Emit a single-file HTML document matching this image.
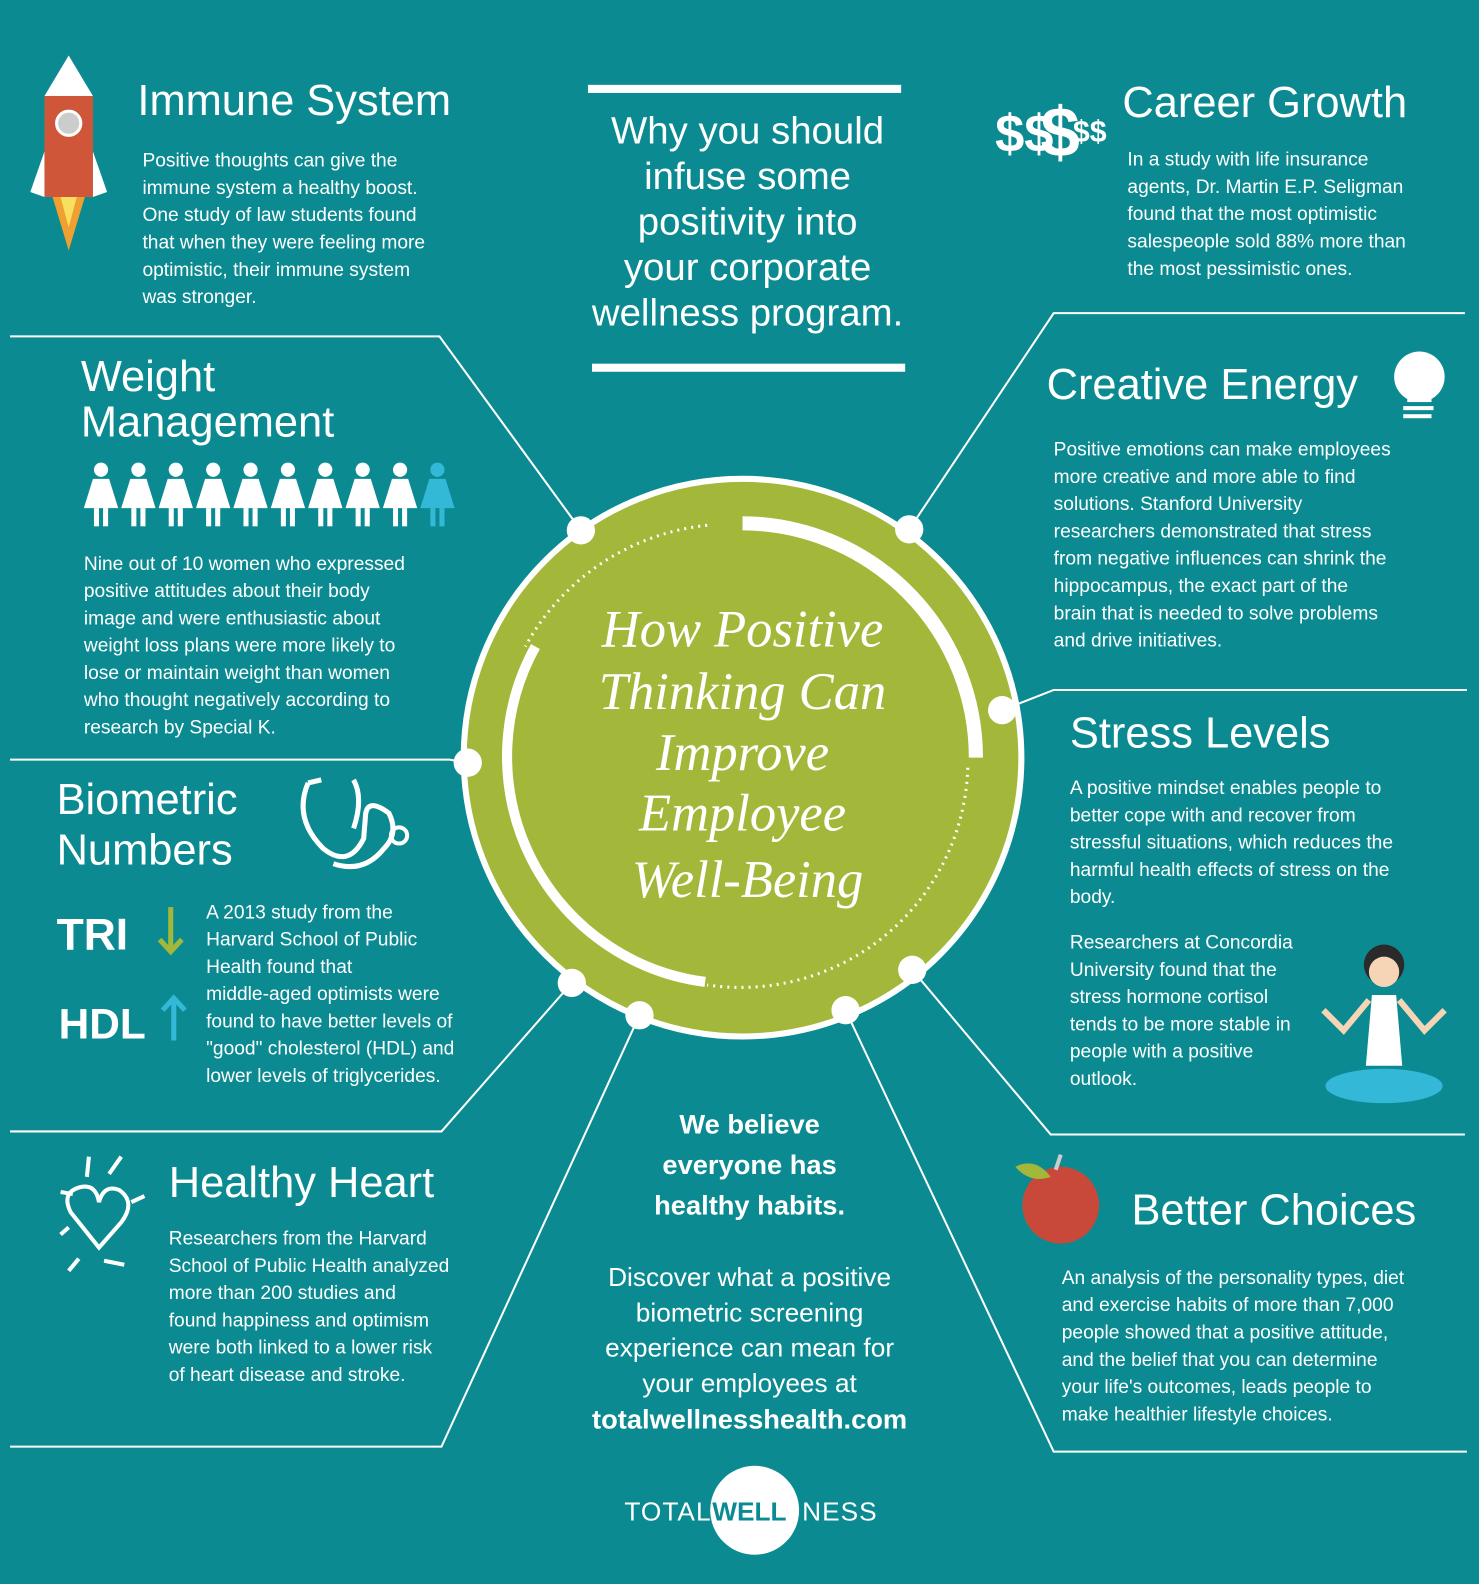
<!DOCTYPE html>
<html><head><meta charset="utf-8"><style>
html,body{margin:0;padding:0;background:#0b8b91;}
svg{display:block}
text{font-family:"Liberation Sans",sans-serif;fill:#fff}
.t{font-size:43px;font-weight:300}
.b{font-size:19px}
.h{font-family:"Liberation Serif",serif;font-style:italic;font-size:52px}
</style></head><body>
<svg width="1479" height="1584" viewBox="0 0 1464 1568" preserveAspectRatio="none" xmlns="http://www.w3.org/2000/svg">
<defs><g id="w">
<circle cx="100" cy="465" r="7"/><path d="M92,474 L108,474 L117,503 L83,503Z"/><rect x="93" y="503" width="5" height="18"/><rect x="102" y="503" width="5" height="18"/>
</g></defs>
<rect width="1464" height="1568" fill="#0b8b91"/>
<g stroke="#fff" stroke-width="2" fill="none">
<polyline points="10,333 435,333 575,525"/>
<polyline points="10,752 445,752 463,755"/>
<polyline points="566,973 437,1120 10,1120"/>
<polyline points="633,1005 437,1432 10,1432"/>
<polyline points="837,1000 1043,1437 1452,1437"/>
<polyline points="903,960 1040,1123 1450,1123"/>
<polyline points="992,703 1043,683 1452,683"/>
<polyline points="900,524 1043,310 1450,310"/>
</g>
<circle cx="735" cy="750" r="276" fill="#a3b83a" stroke="#fff" stroke-width="6"/>
<g fill="none" stroke="#fff">
<path d="M735,518 A232,232 0 0 1 966,750" stroke-width="14"/>
<path d="M698,972 A225,225 0 0 1 530,640" stroke-width="10"/>
<path d="M700,520 A232,232 0 0 0 520,640" stroke-width="3" stroke-dasharray="2,5"/>
<path d="M958,760 A225,225 0 0 1 700,975" stroke-width="3" stroke-dasharray="2,5"/>
</g>
<g fill="#fff">
<circle cx="575" cy="525" r="14"/><circle cx="900" cy="524" r="14"/><circle cx="992" cy="703" r="14"/>
<circle cx="463" cy="755" r="14"/><circle cx="566" cy="973" r="14"/><circle cx="633" cy="1005" r="14"/>
<circle cx="837" cy="1000" r="14"/><circle cx="903" cy="960" r="14"/>
</g>
<g text-anchor="middle">
<text x="735" y="640" class="h">How Positive</text>
<text x="735" y="702" class="h">Thinking Can</text>
<text x="735" y="762" class="h">Improve</text>
<text x="735" y="822" class="h">Employee</text>
<text x="740" y="888" class="h">Well-Being</text>
</g>
<rect x="582" y="84" width="310" height="8" fill="#fff"/>
<rect x="586" y="360" width="310" height="8" fill="#fff"/>
<g text-anchor="middle" style="font-size:38px">
<text x="740" y="142">Why you should</text><text x="740" y="187">infuse some</text>
<text x="740" y="232">positivity into</text><text x="740" y="277">your corporate</text>
<text x="740" y="322">wellness program.</text>
</g>
<path d="M68,55 L92,95 L44,95 Z" fill="#fff"/>
<rect x="44" y="95" width="48" height="100" fill="#d0563a"/>
<circle cx="68" cy="122" r="12" fill="#ccc" stroke="#fff" stroke-width="3"/>
<path d="M44,150 L30,190 L44,195Z M92,150 L106,190 L92,195Z" fill="#fff"/>
<path d="M52,195 L68,248 L84,195Z" fill="#f0a030"/><path d="M60,195 L68,225 L76,195Z" fill="#f7e060"/>
<text x="136" y="114" class="t">Immune System</text>
<g><text x="141" y="165" class="b">Positive thoughts can give the</text><text x="141" y="192" class="b">immune system a healthy boost.</text><text x="141" y="219" class="b">One study of law students found</text><text x="141" y="246" class="b">that when they were feeling more</text><text x="141" y="273" class="b">optimistic, their immune system</text><text x="141" y="300" class="b">was stronger.</text></g>
<text x="80" y="387" class="t">Weight</text><text x="80" y="432" class="t">Management</text>
<use href="#w" x="0" fill="#fff"/><use href="#w" x="37" fill="#fff"/><use href="#w" x="74" fill="#fff"/><use href="#w" x="111" fill="#fff"/><use href="#w" x="148" fill="#fff"/><use href="#w" x="185" fill="#fff"/><use href="#w" x="222" fill="#fff"/><use href="#w" x="259" fill="#fff"/><use href="#w" x="296" fill="#fff"/>
<use href="#w" x="333" fill="#33b8d8"/>
<g><text x="83" y="564" class="b">Nine out of 10 women who expressed</text><text x="83" y="591" class="b">positive attitudes about their body</text><text x="83" y="618" class="b">image and were enthusiastic about</text><text x="83" y="645" class="b">weight loss plans were more likely to</text><text x="83" y="672" class="b">lose or maintain weight than women</text><text x="83" y="699" class="b">who thought negatively according to</text><text x="83" y="726" class="b">research by Special K.</text></g>
<text x="56" y="806" class="t">Biometric</text><text x="56" y="856" class="t">Numbers</text>
<path d="M305,775 Q290,810 320,840 Q345,860 360,830 L362,805 Q365,790 385,805 Q395,825 380,840 Q360,865 330,855" fill="none" stroke="#fff" stroke-width="5"/>
<path d="M305,775 L318,772 M350,772 Q360,790 350,820" fill="none" stroke="#fff" stroke-width="5"/>
<circle cx="395" cy="827" r="8" fill="none" stroke="#fff" stroke-width="4"/>
<text x="56" y="940" style="font-size:44px;font-weight:bold">TRI</text>
<text x="58" y="1028" style="font-size:42px;font-weight:bold">HDL</text>
<path d="M169,898 L169,940 M158,930 L169,942 L180,930" stroke="#a3b83a" stroke-width="5" fill="none"/>
<path d="M172,1030 L172,990 M161,1000 L172,988 L183,1000" stroke="#33b8d8" stroke-width="5" fill="none"/>
<g><text x="204" y="909" class="b">A 2013 study from the</text><text x="204" y="936" class="b">Harvard School of Public</text><text x="204" y="963" class="b">Health found that</text><text x="204" y="990" class="b">middle-aged optimists were</text><text x="204" y="1017" class="b">found to have better levels of</text><text x="204" y="1044" class="b">"good" cholesterol (HDL) and</text><text x="204" y="1071" class="b">lower levels of triglycerides.</text></g>
<path d="M98,1235 L70,1200 Q60,1180 80,1175 Q95,1172 98,1190 Q103,1172 118,1178 Q135,1190 120,1210Z" fill="none" stroke="#fff" stroke-width="4"/>
<g stroke="#fff" stroke-width="4"><line x1="88" y1="1145" x2="86" y2="1165"/><line x1="120" y1="1145" x2="108" y2="1162"/><line x1="60" y1="1180" x2="72" y2="1182"/><line x1="130" y1="1190" x2="143" y2="1184"/><line x1="60" y1="1222" x2="68" y2="1215"/><line x1="68" y1="1258" x2="78" y2="1246"/><line x1="103" y1="1248" x2="123" y2="1252"/></g>
<text x="167" y="1185" class="t">Healthy Heart</text>
<g><text x="167" y="1232" class="b">Researchers from the Harvard</text><text x="167" y="1259" class="b">School of Public Health analyzed</text><text x="167" y="1286" class="b">more than 200 studies and</text><text x="167" y="1313" class="b">found happiness and optimism</text><text x="167" y="1340" class="b">were both linked to a lower risk</text><text x="167" y="1367" class="b">of heart disease and stroke.</text></g>
<g text-anchor="middle"><text x="742" y="1122" style="font-size:27px;font-weight:bold">We believe</text><text x="742" y="1162" style="font-size:27px;font-weight:bold">everyone has</text><text x="742" y="1202" style="font-size:27px;font-weight:bold">healthy habits.</text>
<text x="742" y="1273" style="font-size:26px">Discover what a positive</text><text x="742" y="1308" style="font-size:26px">biometric screening</text><text x="742" y="1343" style="font-size:26px">experience can mean for</text><text x="742" y="1378" style="font-size:26px">your employees at</text><text x="742" y="1414" style="font-size:27px;font-weight:bold">totalwellnesshealth.com</text></g>
<circle cx="747" cy="1495" r="44" fill="#fff"/>
<text x="618" y="1505" style="font-size:26px;letter-spacing:1px">TOTAL</text>
<text x="705" y="1505" style="font-size:26px;font-weight:bold;fill:#0b8b91">WELL</text>
<text x="794" y="1505" style="font-size:26px;letter-spacing:1px">NESS</text>
<text x="985" y="150" style="font-size:52px;font-weight:bold">$$</text><text x="1030" y="155" style="font-size:70px;font-weight:bold">$</text><text x="1062" y="140" style="font-size:30px;font-weight:bold">$$</text>
<text x="1111" y="116" class="t">Career Growth</text>
<g><text x="1116" y="164" class="b">In a study with life insurance</text><text x="1116" y="191" class="b">agents, Dr. Martin E.P. Seligman</text><text x="1116" y="218" class="b">found that the most optimistic</text><text x="1116" y="245" class="b">salespeople sold 88% more than</text><text x="1116" y="272" class="b">the most pessimistic ones.</text></g>
<text x="1036" y="395" class="t">Creative Energy</text>
<circle cx="1405" cy="373" r="25" fill="#fff"/><rect x="1393" y="393" width="24" height="5" fill="#fff"/><rect x="1389" y="402" width="30" height="4" fill="#fff"/><rect x="1389" y="410" width="28" height="4" fill="#fff"/>
<g><text x="1043" y="451" class="b">Positive emotions can make employees</text><text x="1043" y="478" class="b">more creative and more able to find</text><text x="1043" y="505" class="b">solutions. Stanford University</text><text x="1043" y="532" class="b">researchers demonstrated that stress</text><text x="1043" y="559" class="b">from negative influences can shrink the</text><text x="1043" y="586" class="b">hippocampus, the exact part of the</text><text x="1043" y="613" class="b">brain that is needed to solve problems</text><text x="1043" y="640" class="b">and drive initiatives.</text></g>
<text x="1059" y="740" class="t">Stress Levels</text>
<g><text x="1059" y="786" class="b">A positive mindset enables people to</text><text x="1059" y="813" class="b">better cope with and recover from</text><text x="1059" y="840" class="b">stressful situations, which reduces  the</text><text x="1059" y="867" class="b">harmful health effects of stress on the</text><text x="1059" y="894" class="b">body.</text>
<text x="1059" y="939" class="b">Researchers at Concordia</text><text x="1059" y="966" class="b">University found that the</text><text x="1059" y="993" class="b">stress hormone cortisol</text><text x="1059" y="1020" class="b">tends to be more stable in</text><text x="1059" y="1047" class="b">people with a positive</text><text x="1059" y="1074" class="b">outlook.</text></g>
<circle cx="1370" cy="955" r="20" fill="#2a2a2a"/><circle cx="1370" cy="962" r="15" fill="#f5d5b5"/>
<path d="M1358,985 L1382,985 L1388,1055 L1352,1055Z" fill="#fff"/>
<path d="M1355,990 L1330,1020 L1310,1000 M1385,990 L1410,1020 L1430,1000" stroke="#f5d5b5" stroke-width="6" fill="none"/>
<ellipse cx="1370" cy="1075" rx="58" ry="17" fill="#33b8d8"/>
<circle cx="1050" cy="1193" r="38" fill="#c8493a"/>
<path d="M1045,1158 L1050,1143" stroke="#ccc" stroke-width="4"/>
<path d="M1005,1155 Q1025,1145 1040,1165 Q1020,1172 1005,1155Z" fill="#a3b83a"/>
<text x="1120" y="1212" class="t">Better Choices</text>
<g><text x="1051" y="1271" class="b">An analysis of the personality types, diet</text><text x="1051" y="1298" class="b">and exercise habits of more than 7,000</text><text x="1051" y="1325" class="b">people showed that a positive attitude,</text><text x="1051" y="1352" class="b">and the belief that you can determine</text><text x="1051" y="1379" class="b">your life's outcomes, leads people to</text><text x="1051" y="1406" class="b">make healthier lifestyle choices.</text></g>
</svg>
</body></html>
